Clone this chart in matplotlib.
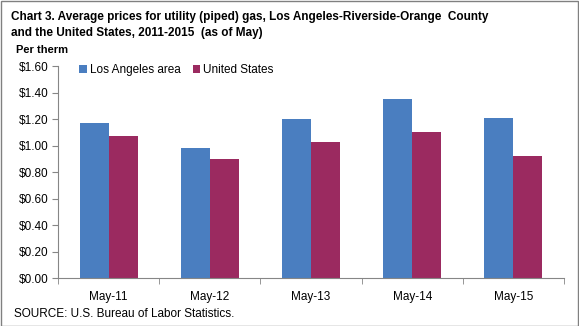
import numpy as np
import matplotlib.pyplot as plt
from matplotlib.patches import Rectangle
from matplotlib.ticker import FuncFormatter, FixedLocator

periods = ["May-11", "May-12", "May-13", "May-14", "May-15"]
la_area = [1.17, 0.98, 1.20, 1.35, 1.21]
us_avg = [1.07, 0.90, 1.03, 1.10, 0.92]

plt.rcParams['font.family'] = ['Liberation Sans', 'DejaVu Sans']

fig = plt.figure(figsize=(5.79, 3.26), dpi=100)
W, H = 579, 326
ax = fig.add_axes([58 / W, 1 - 278.3 / H, (564 - 58) / W, (278.3 - 66) / H])

x = np.arange(len(periods))
bw = 0.287
ax.bar(x - bw / 2, la_area, bw, color='#4A7EC0', label='Los Angeles area')
ax.bar(x + bw / 2, us_avg, bw, color='#9B2A60', label='United States')

ax.set_xlim(-0.5, len(periods) - 0.5)
ax.set_ylim(0, 1.6)
ax.set_yticks(np.arange(0, 1.61, 0.2))
ax.yaxis.set_major_formatter(FuncFormatter(lambda v, p: '${:.2f}'.format(v)))
ax.set_xticks(x)
ax.set_xticklabels(periods)
ax.xaxis.set_minor_locator(FixedLocator(np.arange(-0.5, len(periods), 1)))
ax.tick_params(axis='x', which='major', length=0, pad=9, labelsize=8.5)
ax.tick_params(axis='x', which='minor', length=4, color='#868686', direction='out')
ax.tick_params(axis='y', length=4, color='#868686', labelsize=8.5, pad=3)
for s in ['top', 'right']:
    ax.spines[s].set_visible(False)
for s in ['left', 'bottom']:
    ax.spines[s].set_color('#868686')

ax.legend(loc='upper left', bbox_to_anchor=(0.033, 1.03), ncol=2, frameon=False,
          fontsize=8.5, handlelength=0.6, handleheight=0.6, handletextpad=0.3,
          columnspacing=1.0, borderaxespad=0)

fig.text(11 / W, 1 - 20 / H, "Chart 3. Average prices for utility (piped) gas, Los Angeles-Riverside-Orange  County",
         fontsize=8.5, fontweight='bold', va='baseline')
fig.text(11 / W, 1 - 36 / H, "and the United States, 2011-2015  (as of May)",
         fontsize=8.5, fontweight='bold', va='baseline')
fig.text(16 / W, 1 - 53 / H, "Per therm", fontsize=8, fontweight='bold', va='baseline')
fig.text(14 / W, 1 - 317 / H, "SOURCE: U.S. Bureau of Labor Statistics.", fontsize=8.5, va='baseline')

fig.patches.append(Rectangle((0.5 / W, 0.5 / H), 1 - 1.5 / W, 1 - 1.5 / H,
                             transform=fig.transFigure, fill=False,
                             edgecolor='#808080', linewidth=1))

fig.savefig('out.png', dpi=100)
